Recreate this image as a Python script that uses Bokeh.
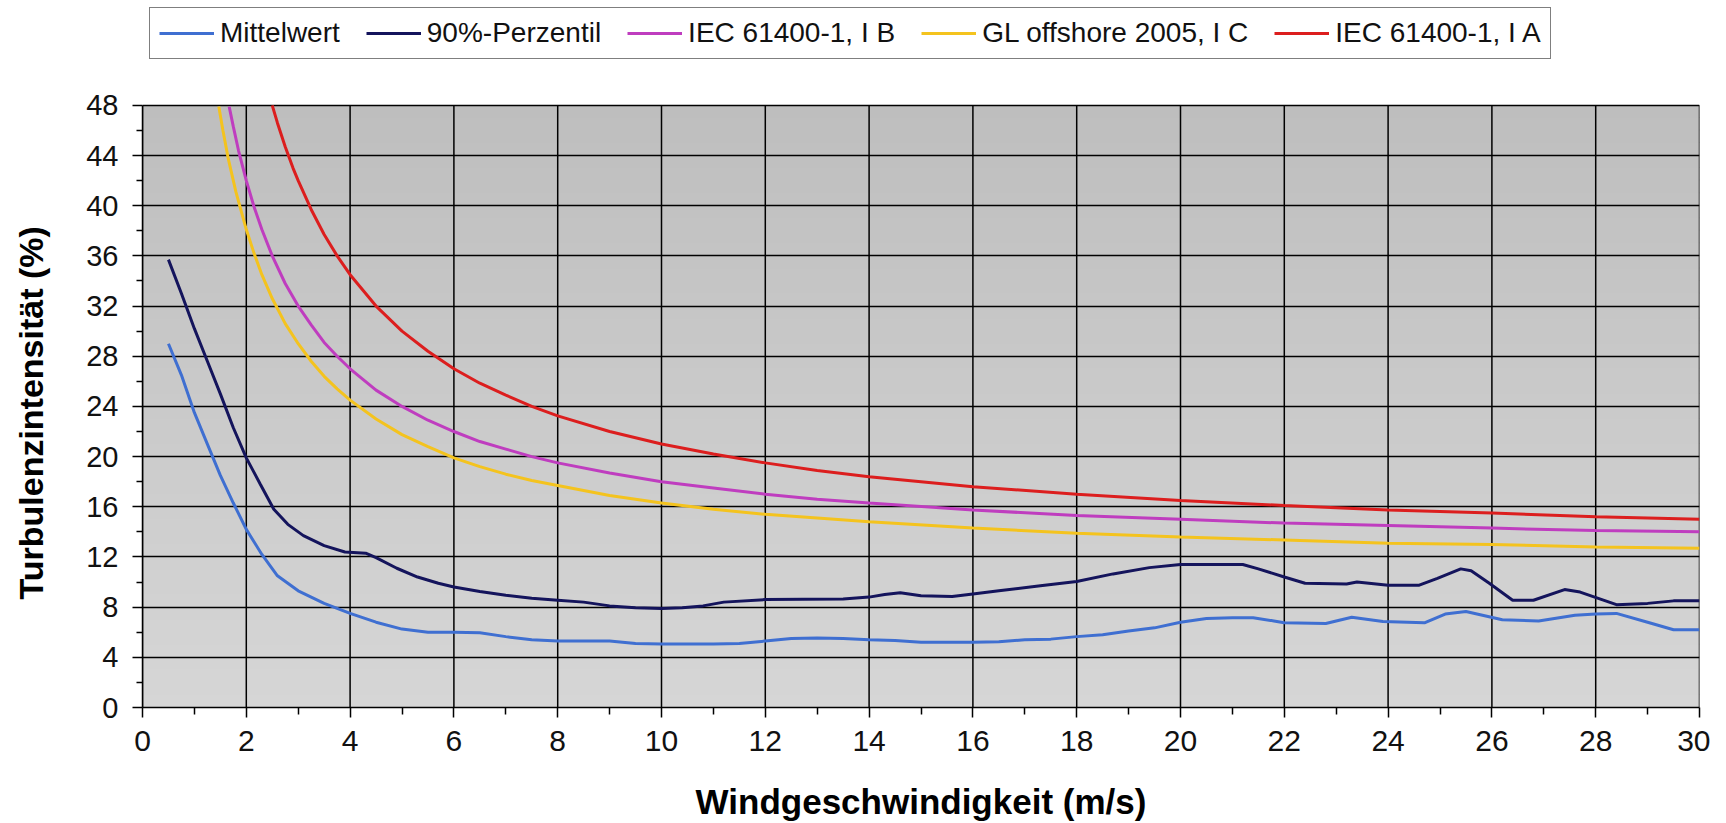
from bokeh.plotting import figure
from bokeh.models import (Range1d, FixedTicker, Legend, LegendItem, BoxAnnotation, Title)
from bokeh.embed import file_html
from bokeh.resources import INLINE

# ---------------- data ----------------
mittel_x = [0.5, 0.75, 1.0, 1.25, 1.5, 1.75, 2.0, 2.3, 2.6, 3.0, 3.5, 4.0, 4.5, 5.0, 5.5, 6.0,
            6.5, 7.0, 7.5, 8.0, 9.0, 9.5, 10.0, 11.0, 11.5, 12.0, 12.5, 13.0, 13.5, 14.0, 14.5,
            15.0, 16.0, 16.5, 17.0, 17.5, 18.0, 18.5, 19.0, 19.5, 20.0, 20.5, 21.0, 21.4, 21.8,
            22.0, 22.8, 23.3, 23.9, 24.7, 25.1, 25.5, 26.2, 26.9, 27.6, 28.0, 28.4, 29.0, 29.5, 30.0]
mittel_y = [29.0, 26.5, 23.5, 21.0, 18.5, 16.3, 14.2, 12.2, 10.5, 9.3, 8.3, 7.5, 6.8, 6.25, 6.0, 6.0,
            5.95, 5.65, 5.4, 5.3, 5.3, 5.1, 5.07, 5.07, 5.1, 5.3, 5.5, 5.55, 5.5, 5.4, 5.35,
            5.2, 5.2, 5.25, 5.4, 5.45, 5.65, 5.8, 6.1, 6.35, 6.8, 7.1, 7.15, 7.15, 6.9,
            6.75, 6.7, 7.2, 6.85, 6.75, 7.45, 7.65, 7.0, 6.9, 7.35, 7.45, 7.5, 6.8, 6.2, 6.2]

perz_x = [0.5, 0.75, 1.0, 1.25, 1.5, 1.75, 2.0, 2.27, 2.53, 2.8, 3.1, 3.5, 3.9, 4.3, 4.5, 4.9,
          5.3, 5.7, 6.0, 6.5, 7.0, 7.5, 8.0, 8.5, 9.0, 9.5, 10.0, 10.4, 10.8, 11.2, 12.0, 13.5,
          14.0, 14.3, 14.6, 15.0, 15.6, 16.0, 16.5, 17.3, 18.0, 18.7, 19.4, 20.0, 21.2, 21.5,
          22.0, 22.4, 23.2, 23.4, 24.0, 24.6, 24.95, 25.4, 25.6, 25.95, 26.4, 26.8, 27.4, 27.7,
          28.4, 29.0, 29.5, 30.0]
perz_y = [35.7, 33.0, 30.2, 27.6, 25.0, 22.3, 19.9, 17.8, 15.8, 14.6, 13.7, 12.9, 12.4, 12.3, 11.95, 11.1,
          10.4, 9.9, 9.6, 9.25, 8.95, 8.7, 8.55, 8.4, 8.1, 7.95, 7.9, 7.95, 8.1, 8.4, 8.6, 8.65,
          8.8, 9.0, 9.15, 8.9, 8.85, 9.05, 9.3, 9.7, 10.05, 10.65, 11.15, 11.4, 11.4, 11.05,
          10.4, 9.9, 9.85, 10.0, 9.75, 9.75, 10.3, 11.05, 10.9, 9.9, 8.55, 8.55, 9.4, 9.2,
          8.2, 8.3, 8.5, 8.5]

iecb_x = [1.67, 1.75, 1.85, 2.0, 2.15, 2.3, 2.5, 2.75, 3.0, 3.25, 3.5, 3.75, 4.0, 4.5, 5.0, 5.5,
          6.0, 6.5, 7.0, 7.5, 8.0, 9.0, 10.0, 11.0, 12.0, 13.0, 14.0, 16.0, 18.0, 20.0, 22.0,
          24.0, 26.0, 28.0, 30.0]
iecb_y = [47.9, 46.3, 44.4, 42.0, 39.9, 38.1, 36.0, 33.8, 32.0, 30.5, 29.1, 28.0, 27.0, 25.3, 24.0, 22.9,
          22.0, 21.2, 20.6, 20.0, 19.5, 18.7, 18.0, 17.5, 17.0, 16.6, 16.3, 15.75, 15.3, 15.0, 14.7,
          14.5, 14.3, 14.1, 14.0]

gl_x = [1.47, 1.55, 1.65, 1.8, 2.0, 2.15, 2.3, 2.5, 2.75, 3.0, 3.25, 3.5, 3.75, 4.0, 4.5, 5.0,
        5.5, 6.0, 6.5, 7.0, 7.5, 8.0, 9.0, 10.0, 11.0, 12.0, 13.0, 14.0, 16.0, 18.0, 20.0,
        22.0, 24.0, 26.0, 28.0, 30.0]
gl_y = [47.9, 46.0, 43.8, 41.1, 38.1, 36.2, 34.5, 32.6, 30.6, 29.0, 27.6, 26.4, 25.4, 24.5, 23.0, 21.75,
        20.8, 19.9, 19.2, 18.6, 18.1, 17.7, 16.9, 16.3, 15.8, 15.4, 15.1, 14.8, 14.3, 13.9, 13.6,
        13.35, 13.1, 13.0, 12.8, 12.7]

ieca_x = [2.5, 2.6, 2.75, 2.9, 3.0, 3.25, 3.5, 3.75, 4.0, 4.5, 5.0, 5.5, 6.0, 6.5, 7.0, 7.5,
          8.0, 9.0, 10.0, 11.0, 12.0, 13.0, 14.0, 15.0, 16.0, 18.0, 20.0, 22.0, 24.0, 26.0,
          28.0, 30.0]
ieca_y = [48.0, 46.6, 44.7, 43.0, 42.0, 39.7, 37.7, 36.0, 34.5, 32.0, 30.0, 28.4, 27.0, 25.85, 24.9, 24.0,
          23.25, 22.0, 21.0, 20.2, 19.5, 18.9, 18.4, 18.0, 17.6, 17.0, 16.5, 16.1, 15.75, 15.5,
          15.2, 15.0]

x_ticks = [0, 2, 4, 6, 8, 10, 12, 14, 16, 18, 20, 22, 24, 26, 28, 30]
y_ticks = [0, 4, 8, 12, 16, 20, 24, 28, 32, 36, 40, 44, 48]

labels = ["Mittelwert", "90%-Perzentil", "IEC 61400-1, I B", "GL offshore 2005, I C", "IEC 61400-1, I A"]
colors = ["#3F6FD1", "#14145C", "#BF3DBF", "#F4C31E", "#DC1E1E"]

# ---------------- layout constants ----------------
Y_MIN, Y_MAX = 0, 48
FIG_H, BORDER_BOTTOM, FRAME_TOP_PX = 823, 115, 105   # plot area top (y=48) sits 105 px below the page top
frame_h = FIG_H - BORDER_BOTTOM
y_end = Y_MAX * frame_h / (frame_h - FRAME_TOP_PX)  # extra headroom inside the frame for the legend

p = figure(width=1710, height=FIG_H, output_backend="svg", toolbar_location=None,
           x_range=Range1d(0, 30), y_range=Range1d(Y_MIN, y_end),
           min_border_left=142, min_border_right=11, min_border_top=0,
           min_border_bottom=BORDER_BOTTOM)
p.background_fill_color = "white"
p.border_fill_color = "white"
p.outline_line_color = None

# vertical gradient of the plot area (light at bottom, darker at top)
n_bands = 48
c_bot = (214, 214, 214)
c_top = (190, 190, 190)
for i in range(n_bands):
    t = (i + 0.5) / n_bands
    c = tuple(int(round(c_bot[k] + (c_top[k] - c_bot[k]) * t)) for k in range(3))
    top = min(Y_MAX, Y_MAX * (i + 1.08) / n_bands)
    p.add_layout(BoxAnnotation(bottom=Y_MAX * i / n_bands, top=top,
                               fill_color="#%02x%02x%02x" % c, fill_alpha=1.0,
                               line_alpha=0, level="image"))

# axes
p.xaxis.ticker = FixedTicker(ticks=x_ticks, minor_ticks=[v + 1 for v in x_ticks[:-1]])
p.yaxis.ticker = FixedTicker(ticks=y_ticks, minor_ticks=[v + 2 for v in y_ticks[:-1]])
p.yaxis.bounds = (Y_MIN, Y_MAX)
for ax in (p.xaxis[0], p.yaxis[0]):
    ax.axis_line_color = "black"
    ax.axis_line_width = 1.5
    ax.major_tick_line_color = "black"
    ax.major_tick_line_width = 1.5
    ax.minor_tick_line_color = "black"
    ax.minor_tick_line_width = 1.5
    ax.major_tick_in = 0
    ax.major_tick_out = 10
    ax.minor_tick_in = 0
    ax.major_label_text_font = "Liberation Sans"
    ax.major_label_text_color = "#111111"
    ax.axis_label_text_font = "Liberation Sans"
    ax.axis_label_text_font_style = "bold"
    ax.axis_label_text_color = "black"
p.xaxis.major_label_standoff = 13
p.yaxis.major_label_standoff = 14
p.xaxis.minor_tick_out = 7
p.yaxis.minor_tick_out = 6
p.xaxis.major_label_text_font_size = "30px"
p.yaxis.major_label_text_font_size = "29px"
p.xaxis.axis_label = "Windgeschwindigkeit (m/s)"
p.xaxis.axis_label_text_font_size = "35px"
p.xaxis.axis_label_standoff = 28

# y-axis title as a side title, so it can be centred on the 0..48 part of the axis
p.add_layout(Title(text=" ", text_font_size="1px", standoff=26), "left")   # spacing only
p.add_layout(Title(text="Turbulenzintensität (%)", align="left", offset=108,
                   text_font="Liberation Sans", text_font_size="34px",
                   text_font_style="bold", text_color="black", standoff=10), "left")

# grid: horizontal lines via grid, vertical lines limited to the 0..48 band
p.xgrid.visible = False
p.ygrid.ticker = FixedTicker(ticks=y_ticks)
p.ygrid.grid_line_color = "black"
p.ygrid.grid_line_width = 1.5
p.segment(x0=x_ticks, x1=x_ticks, y0=[Y_MIN] * len(x_ticks), y1=[Y_MAX] * len(x_ticks),
          line_color="black", line_width=1.5)

# series
series = [(mittel_x, mittel_y), (perz_x, perz_y), (iecb_x, iecb_y), (gl_x, gl_y), (ieca_x, ieca_y)]
renderers = []
for (xs, ys), col in zip(series, colors):
    r = p.line(xs, ys, line_color=col, line_width=3)
    renderers.append(r)

legend = Legend(items=[LegendItem(label=lab, renderers=[r]) for lab, r in zip(labels, renderers)],
                orientation="horizontal", location="top_left",
                glyph_width=55, glyph_height=26, label_height=26, label_standoff=6,
                spacing=26, padding=9, margin=7,
                border_line_color="black", border_line_width=1.5,
                background_fill_color="white", background_fill_alpha=1.0,
                label_text_font="Liberation Sans", label_text_font_size="28px",
                label_text_color="#111111")
p.add_layout(legend)

open("out.html", "w").write(file_html(p, INLINE))
